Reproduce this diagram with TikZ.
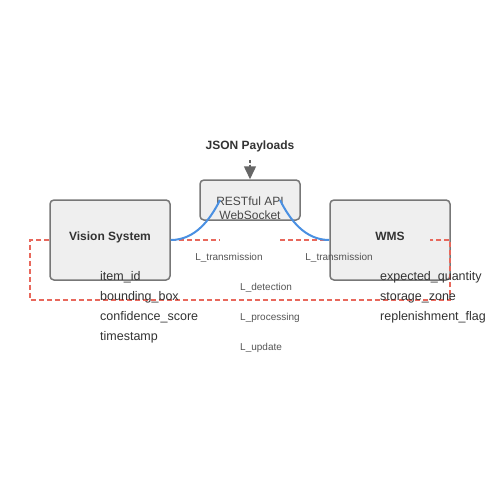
\documentclass[tikz,border=0pt]{standalone}
\usepackage{fontspec}
\setmainfont{Liberation Sans}
\usetikzlibrary{arrows.meta}
\definecolor{boxfill}{HTML}{EFEFEF}
\definecolor{boxline}{HTML}{777777}
\definecolor{txt}{HTML}{333333}
\definecolor{lbl}{HTML}{555555}
\definecolor{reddash}{HTML}{E8685C}
\definecolor{blueline}{HTML}{4A90E2}
\definecolor{arrowgray}{HTML}{666666}
\begin{document}
\begin{tikzpicture}[x=1pt,y=-1pt,
  box/.style={draw=boxline,fill=boxfill,line width=1.5pt,rounded corners=4pt,inner sep=0pt},
  title/.style={inner sep=0pt,anchor=base,text=txt,font=\fontsize{12}{14}\selectfont\bfseries},
  apitext/.style={inner sep=0pt,anchor=base,text=txt!90,font=\fontsize{12}{14}\selectfont},
  field/.style={inner sep=0pt,anchor=base west,text=txt,font=\fontsize{12.5}{14}\selectfont},
  llabel/.style={inner sep=0pt,anchor=base,text=lbl,font=\fontsize{10}{12}\selectfont},
  reddashed/.style={draw=reddash,line width=1.5pt,dash pattern=on 5pt off 3pt},
  bluecurve/.style={draw=blueline,line width=2pt},
  payarrow/.style={draw=arrowgray,fill=arrowgray,line width=1.5pt,dash pattern=on 3pt off 2pt,-{Triangle[length=13pt,width=12pt]}}
]
\useasboundingbox (0,0) rectangle (500,500);
\fill[white] (0,0) rectangle (500,500);

% boxes
\node[box,minimum width=120pt,minimum height=80pt] (vis) at (110,240) {};
\node[box,minimum width=100pt,minimum height=40pt] (api) at (250,200) {};
\node[box,minimum width=120pt,minimum height=80pt] (wms) at (390,240) {};

% box texts
\node[title] (vist) at (110,240) {Vision System};
\node[title] (wmst) at (390,240) {WMS};
\node[apitext] (api1) at (250,205) {RESTful API};
\node[apitext] (api2) at (250,219) {WebSocket};
\node[title] (json) at (250,149.5) {JSON Payloads};

% payload arrow
\coordinate (arrs) at (250,160);
\draw[payarrow] (arrs) -- (api.north);

% red dashed connectors
\coordinate (r1) at (30,240);
\coordinate (r2) at (30,300);
\coordinate (r3) at (450,300);
\coordinate (r4) at (450,240);
\coordinate (r5) at (430,240);
\coordinate (m1) at (220,240);
\coordinate (m2) at (280,240);
\draw[reddashed] (vis.west) -- (r1) -- (r2) -- (r3) -- (r4) -- (r5);
\draw[reddashed] (vis.east) -- (m1);
\draw[reddashed] (m2) -- (wms.west);

% blue curves
\coordinate (b1) at (220,200);
\coordinate (b2) at (280,200);
\draw[bluecurve] (vis.east) .. controls (195,240) and (210,220) .. (b1);
\draw[bluecurve] (b2) .. controls (290,220) and (305,240) .. (wms.west);

% labels
\node[llabel] (lt1) at (229,260) {L\_transmission};
\node[llabel] (lt2) at (339,260) {L\_transmission};
\node[llabel,anchor=base west] (ld) at (240,290) {L\_detection};
\node[llabel,anchor=base west] (lp) at (240,320) {L\_processing};
\node[llabel,anchor=base west] (lu) at (240,350) {L\_update};

% fields
\node[field] (f1) at (100,280) {item\_id};
\node[field] (f2) at (100,300) {bounding\_box};
\node[field] (f3) at (100,320) {confidence\_score};
\node[field] (f4) at (100,340) {timestamp};
\node[field] (g1) at (380,280) {expected\_quantity};
\node[field] (g2) at (380,300) {storage\_zone};
\node[field] (g3) at (380,320) {replenishment\_flag};
\end{tikzpicture}
\end{document}
